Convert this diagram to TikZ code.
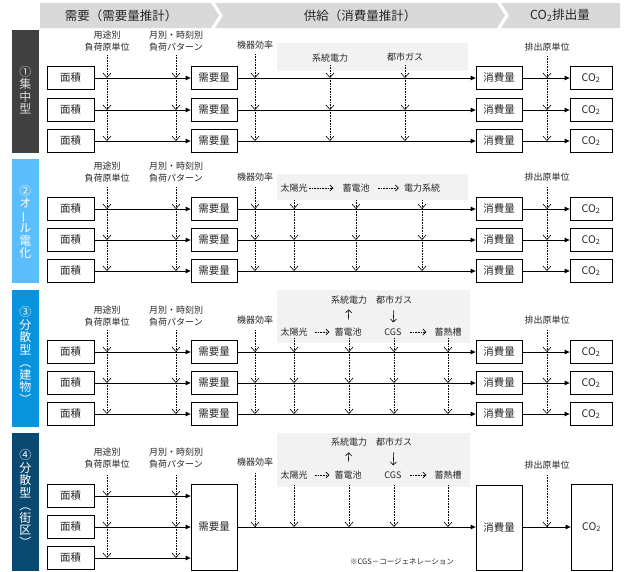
\documentclass[tikz,border=0pt]{standalone}
\usepackage{fontspec}
\setmainfont{Noto Sans CJK JP}
\usetikzlibrary{arrows.meta}
\definecolor{hdr}{HTML}{D9D9D9}
\definecolor{greybg}{HTML}{F2F2F2}
\definecolor{pone}{HTML}{404040}
\definecolor{ptwo}{HTML}{5BBDFA}
\definecolor{pthree}{HTML}{0893DC}
\definecolor{pfour}{HTML}{0B4A70}
\definecolor{txt}{HTML}{262626}
\newcommand\vlp{\rotatebox[origin=c]{-90}{（}}
\newcommand\vrp{\rotatebox[origin=c]{-90}{）}}
\newcommand\vbar{\rotatebox[origin=c]{90}{ー}}
% dotted column through three rows: name, x, top y, row nodes
\newcommand\dcolthree[6]{%
  \coordinate (#1) at (#2,#3);
  \draw[dotv] (#1) -- (#1 |- #4.east);
  \draw[dotv] (#1 |- #4.east) -- (#1 |- #5.east);
  \draw[dotv] (#1 |- #5.east) -- (#1 |- #6.east);
}
\newcommand\dcolone[4]{%
  \coordinate (#1) at (#2,#3);
  \draw[dotv] (#1) -- (#1 |- #4.east);
}
\begin{document}
\begin{tikzpicture}[x=1pt,y=-1pt,
  box/.style={draw=black,line width=0.8pt,fill=white,minimum width=47pt,minimum height=23pt,inner sep=0pt,font=\fontsize{10.5}{12}\selectfont,text=txt},
  flow/.style={line width=0.8pt,-{Triangle[length=5pt,width=4.5pt]}},
  dotv/.style={densely dotted,line width=0.6pt,-{Straight Barb[length=4.5pt,width=8pt]}},
  doth/.style={densely dotted,line width=0.6pt,-{Straight Barb[length=3pt,width=6pt]}},
  solv/.style={line width=0.6pt,-{Straight Barb[length=3pt,width=6pt]}},
  lbl/.style={font=\fontsize{9}{12}\selectfont,text=txt,align=center,inner sep=0pt},
  side/.style={inner sep=0pt,align=center,text=white,font=\fontsize{12}{12.5}\selectfont},
  hdrtxt/.style={font=\fontsize{12.5}{14}\selectfont,text=txt},
  notetxt/.style={font=\fontsize{7.5}{9}\selectfont,text=txt,inner sep=0pt}]
\useasboundingbox (0,0) rectangle (624,571);

% ---------- header ----------
\fill[hdr] (40,3) -- (211,3) -- (219,15.5) -- (211,28) -- (40,28) -- cycle;
\fill[hdr] (215,3) -- (497,3) -- (505,15.5) -- (497,28) -- (215,28) -- (223,15.5) -- cycle;
\fill[hdr] (501,3) -- (620,3) -- (620,28) -- (501,28) -- (509,15.5) -- cycle;
\node[hdrtxt] (h1) at (121,15.5) {需要（需要量推計）};
\node[hdrtxt] (h2) at (360,15.5) {供給（消費量推計）};
\node[hdrtxt] (h3) at (560,15.5) {CO\textsubscript{2}排出量};

% ---------- side panels ----------
\fill[pone] (12,30) rectangle (39,153);
\node[side,text=white!85!black] (s1) at (25.5,90) {①\\集\\中\\型};
\fill[ptwo] (12,159) rectangle (39,283);
\node[side] (s2) at (25.5,222) {②\\オ\\\vbar\\ル\\電\\化};
\fill[pthree] (12,290) rectangle (39,427);
\node[side] (s3) at (25.5,356) {③\\分\\散\\型\\\vlp\\建\\物\\\vrp};
\fill[pfour] (12,433) rectangle (39,571);
\node[side] (s4) at (25.5,499) {④\\分\\散\\型\\\vlp\\街\\区\\\vrp};

% ---------- panel 1 ----------
\fill[greybg] (277,43) rectangle (468,71);
\node[lbl] (u1) at (107,41) {用途別\\負荷原単位};
\node[lbl] (m1) at (176,41) {月別・時刻別\\負荷パターン};
\node[lbl] (k1) at (255,45) {機器効率};
\node[lbl] (g1) at (330,58) {系統電力};
\node[lbl] (c1) at (405,57) {都市ガス};
\node[lbl] (e1) at (547,47) {排出原単位};
\foreach \i/\y in {1/78,2/110,3/141}{
  \node[box] (A1\i) at (70.5,\y) {面積};
  \node[box,minimum width=46pt] (D1\i) at (214,\y) {需要量};
  \node[box,minimum width=46pt] (C1\i) at (499,\y) {消費量};
  \node[box,minimum width=42pt] (E1\i) at (591,\y) {CO\textsubscript{2}};
  \draw[flow] (A1\i) -- (D1\i);
  \draw[flow] (D1\i) -- (C1\i);
  \draw[flow] (C1\i) -- (E1\i);
}
\dcolthree{pa}{107}{55}{A11}{A12}{A13}
\dcolthree{pb}{176}{55}{A11}{A12}{A13}
\dcolthree{pc}{255}{54}{A11}{A12}{A13}
\dcolthree{pd}{330}{65}{A11}{A12}{A13}
\dcolthree{pe}{405}{65}{A11}{A12}{A13}
\dcolthree{pf}{547}{56}{A11}{A12}{A13}

% ---------- panel 2 ----------
\fill[greybg] (277,174) rectangle (468,200);
\node[lbl] (u2) at (107,172.5) {用途別\\負荷原単位};
\node[lbl] (m2) at (176,172.5) {月別・時刻別\\負荷パターン};
\node[lbl] (k2) at (255,177) {機器効率};
\node[lbl] (pv2) at (294,188) {太陽光};
\node[lbl] (bt2) at (356,188) {蓄電池};
\node[lbl] (gr2) at (422,188) {電力系統};
\node[lbl] (e2) at (547,177) {排出原単位};
\draw[doth,shorten <=1pt,shorten >=9pt] (pv2) -- (bt2);
\draw[doth,shorten <=8pt,shorten >=5pt] (bt2) -- (gr2);
\foreach \i/\y in {1/209,2/240,3/271}{
  \node[box] (A2\i) at (70.5,\y) {面積};
  \node[box,minimum width=46pt] (D2\i) at (214,\y) {需要量};
  \node[box,minimum width=46pt] (C2\i) at (499,\y) {消費量};
  \node[box,minimum width=42pt] (E2\i) at (591,\y) {CO\textsubscript{2}};
  \draw[flow] (A2\i) -- (D2\i);
  \draw[flow] (D2\i) -- (C2\i);
  \draw[flow] (C2\i) -- (E2\i);
}
\dcolthree{qa}{107}{187}{A21}{A22}{A23}
\dcolthree{qb}{176}{187}{A21}{A22}{A23}
\dcolthree{qc}{255}{187}{A21}{A22}{A23}
\dcolthree{qd}{294}{200}{A21}{A22}{A23}
\dcolthree{qe}{356}{200}{A21}{A22}{A23}
\dcolthree{qf}{422}{200}{A21}{A22}{A23}
\dcolthree{qg}{547}{187}{A21}{A22}{A23}

% ---------- panel 3 ----------
\fill[greybg] (277,290) rectangle (470,343);
\node[lbl] (u3) at (107,316) {用途別\\負荷原単位};
\node[lbl] (m3) at (176,316) {月別・時刻別\\負荷パターン};
\node[lbl] (k3) at (255,320) {機器効率};
\node[lbl] (gr3) at (349,300) {系統電力};
\node[lbl] (cg3) at (394,300) {都市ガス};
\node[lbl] (pv3) at (294,332) {太陽光};
\node[lbl] (bt3) at (348,332) {蓄電池};
\node[lbl] (cs3) at (393,332) {CGS};
\node[lbl] (hs3) at (448,332) {蓄熱槽};
\node[lbl] (e3) at (547,320) {排出原単位};
\draw[solv,shorten <=8pt,shorten >=5pt] (bt3.north) -- (gr3.south);
\draw[solv,shorten <=6pt,shorten >=6pt] (cg3.south) -- (cs3.north);
\draw[doth,shorten <=7pt,shorten >=5pt] (pv3) -- (bt3);
\draw[doth,shorten <=8pt,shorten >=8pt] (cs3) -- (hs3);
\foreach \i/\y in {1/352,2/383,3/414}{
  \node[box] (A3\i) at (70.5,\y) {面積};
  \node[box,minimum width=46pt] (D3\i) at (214,\y) {需要量};
  \node[box,minimum width=46pt] (C3\i) at (499,\y) {消費量};
  \node[box,minimum width=42pt] (E3\i) at (591,\y) {CO\textsubscript{2}};
  \draw[flow] (A3\i) -- (D3\i);
  \draw[flow] (D3\i) -- (C3\i);
  \draw[flow] (C3\i) -- (E3\i);
}
\dcolthree{ra}{107}{330}{A31}{A32}{A33}
\dcolthree{rb}{176}{330}{A31}{A32}{A33}
\dcolthree{rc}{255}{330}{A31}{A32}{A33}
\dcolthree{rd}{294}{338}{A31}{A32}{A33}
\dcolthree{re}{349}{338}{A31}{A32}{A33}
\dcolthree{rf}{394}{338}{A31}{A32}{A33}
\dcolthree{rg}{448}{338}{A31}{A32}{A33}
\dcolthree{rh}{547}{330}{A31}{A32}{A33}

% ---------- panel 4 ----------
\fill[greybg] (277,433) rectangle (470,487);
\node[lbl] (u4) at (107,458) {用途別\\負荷原単位};
\node[lbl] (m4) at (176,458) {月別・時刻別\\負荷パターン};
\node[lbl] (k4) at (255,462) {機器効率};
\node[lbl] (gr4) at (349,442) {系統電力};
\node[lbl] (cg4) at (394,442) {都市ガス};
\node[lbl] (pv4) at (294,475) {太陽光};
\node[lbl] (bt4) at (348,475) {蓄電池};
\node[lbl] (cs4) at (393,475) {CGS};
\node[lbl] (hs4) at (448,475) {蓄熱槽};
\node[lbl] (e4) at (547,465) {排出原単位};
\draw[solv,shorten <=9pt,shorten >=6pt] (bt4.north) -- (gr4.south);
\draw[solv,shorten <=6pt,shorten >=6pt] (cg4.south) -- (cs4.north);
\draw[doth,shorten <=7pt,shorten >=5pt] (pv4) -- (bt4);
\draw[doth,shorten <=8pt,shorten >=8pt] (cs4) -- (hs4);
\node[box,minimum width=46pt,minimum height=86pt] (D4) at (214,527) {需要量};
\node[box,minimum width=46pt,minimum height=85pt] (C4) at (499,527.5) {消費量};
\node[box,minimum width=41pt,minimum height=86pt] (E4) at (591.5,527) {CO\textsubscript{2}};
\foreach \i/\y in {1/496,2/527,3/558}{
  \node[box] (A4\i) at (70.5,\y) {面積};
  \draw[flow] (A4\i.east) -- (A4\i.east -| D4.west);
}
\draw[flow] (D4.east |- A42.east) -- (C4.west |- A42.east);
\draw[flow] (C4.east |- A42.east) -- (E4.west |- A42.east);
\dcolthree{sa}{107}{475}{A41}{A42}{A43}
\dcolthree{sb}{176}{475}{A41}{A42}{A43}
\dcolone{sc}{255}{473}{A42}
\dcolone{sd}{294}{485}{A42}
\dcolone{se}{349}{485}{A42}
\dcolone{sf}{394}{485}{A42}
\dcolone{sg}{448}{485}{A42}
\dcolone{sh}{547}{475}{A42}
\node[notetxt] (nt) at (402,562) {※CGS－コージェネレーション};
\end{tikzpicture}
\end{document}
